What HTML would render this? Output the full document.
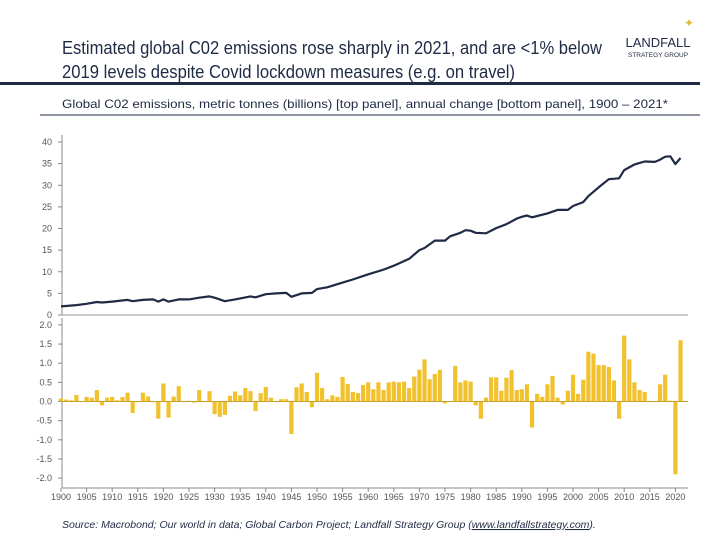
<!DOCTYPE html>
<html><head><meta charset="utf-8"><style>
body{margin:0;background:#fff;width:720px;height:540px;overflow:hidden;font-family:"Liberation Sans",sans-serif}
svg{display:block}
</style></head><body>
<svg id="c" width="720" height="540">
<text x="62" y="54" font-size="18" fill="#1f2a44" textLength="540" lengthAdjust="spacingAndGlyphs">Estimated global C02 emissions rose sharply in 2021, and are &lt;1% below</text>
<text x="62" y="78" font-size="18" fill="#1f2a44" textLength="453" lengthAdjust="spacingAndGlyphs">2019 levels despite Covid lockdown measures (e.g. on travel)</text>
<text x="658" y="47" font-size="13" fill="#1f2a44" text-anchor="middle">LANDFALL</text>
<text x="658" y="57" font-size="6.5" fill="#1f2a44" text-anchor="middle">STRATEGY GROUP</text>
<text x="689" y="27" font-size="12" fill="#e6b830" text-anchor="middle">✦</text>
<rect x="0" y="82" width="700" height="3" fill="#1f2a44"/>
<text x="62" y="108" font-size="12" fill="#1f2a44" textLength="606" lengthAdjust="spacingAndGlyphs">Global C02 emissions, metric tonnes (billions) [top panel], annual change [bottom panel], 1900 – 2021*</text>
<line x1="40" y1="115" x2="700" y2="115" stroke="#1f2a44" stroke-width="1"/>
<g id="topPanel"></g>
<g id="botPanel"></g>
<text x="62" y="528" font-size="10.5" font-style="italic" fill="#1f2a44">Source: Macrobond; Our world in data; Global Carbon Project; Landfall Strategy Group (<tspan text-decoration="underline">www.landfallstrategy.com</tspan>).</text>
</svg>
<script>
const lineYears=[1900,1903,1905,1907,1908,1910,1913,1914,1916,1918,1919,1920,1921,1923,1925,1927,1929,1930,1932,1934,1937,1938,1940,1942,1944,1945,1947,1949,1950,1952,1955,1957,1960,1963,1965,1968,1970,1971,1973,1975,1976,1978,1979,1980,1981,1983,1985,1987,1989,1990,1991,1992,1993,1995,1997,1999,2000,2002,2003,2005,2007,2009,2010,2012,2014,2016,2017,2018,2019,2020,2021];
const emissions=[2.0,2.3,2.6,3.0,2.9,3.1,3.5,3.2,3.5,3.6,3.1,3.6,3.1,3.6,3.6,4.0,4.3,4.0,3.2,3.6,4.3,4.1,4.8,5.0,5.1,4.2,5.0,5.1,6.0,6.4,7.5,8.2,9.4,10.5,11.4,13.0,15.0,15.5,17.2,17.2,18.2,19.0,19.6,19.5,19.0,18.9,20.1,21.0,22.3,22.7,23.0,22.6,22.9,23.5,24.3,24.3,25.2,26.1,27.5,29.5,31.4,31.6,33.5,34.8,35.5,35.4,35.9,36.6,36.7,34.9,36.3];
const barYears=[];for(let y=1900;y<=2021;y++)barYears.push(y);
const changes=[0.08,0.05,0.03,0.17,0.0,0.12,0.1,0.3,-0.1,0.1,0.12,0.03,0.12,0.23,-0.3,0.0,0.23,0.13,-0.02,-0.45,0.47,-0.42,0.13,0.4,0.0,0.02,-0.03,0.3,0.0,0.27,-0.33,-0.4,-0.35,0.15,0.26,0.16,0.35,0.27,-0.25,0.22,0.38,0.1,0.0,0.06,0.06,-0.85,0.37,0.47,0.25,-0.15,0.75,0.35,0.06,0.16,0.12,0.64,0.46,0.25,0.22,0.43,0.5,0.32,
0.5,0.3,0.5,0.52,0.5,0.52,0.35,0.65,0.83,1.1,0.58,0.72,0.83,-0.05,0.0,0.93,0.5,0.55,0.52,-0.1,-0.45,0.1,0.63,0.63,0.28,0.62,0.82,0.3,0.32,0.45,-0.68,0.2,0.12,0.45,0.67,0.1,-0.08,0.28,0.7,0.2,0.57,1.3,1.25,0.95,0.95,0.9,0.55,-0.45,1.72,1.1,0.5,0.3,0.25,0.0,0.0,0.45,0.7,0.02,-1.9,1.6];
const topTicks=[0,5,10,15,20,25,30,35,40];
const botTicks=[-2.0,-1.5,-1.0,-0.5,0.0,0.5,1.0,1.5,2.0];
const xTicks=[1900,1905,1910,1915,1920,1925,1930,1935,1940,1945,1950,1955,1960,1965,1970,1975,1980,1985,1990,1995,2000,2005,2010,2015,2020];
const NS='http://www.w3.org/2000/svg';
const sx=v=>61+(v-1900)*5.12;
const yT=v=>315-v*4.325;
const yB=v=>401.5-v*38.3;
function mk(p,t,a){const e=document.createElementNS(NS,t);for(const k in a)e.setAttribute(k,a[k]);p.appendChild(e);return e;}
const gTop=document.getElementById('topPanel'),gBot=document.getElementById('botPanel');
let ax=mk(gTop,'line',{x1:62,y1:135,x2:62,y2:315,stroke:'#888'});


ax=mk(gTop,'line',{x1:62,y1:315,x2:688,y2:315,stroke:'#999'});


topTicks.forEach(t=>{
 const l=mk(gTop,'text',{x:52,y:yT(t)+3,'font-size':9,fill:'#555','text-anchor':'end'});l.textContent=t;
 
 
 mk(gTop,'line',{x1:58,y1:yT(t),x2:62,y2:yT(t),stroke:'#888'});
});
const pts=lineYears.map((yr,i)=>sx(yr).toFixed(1)+','+yT(emissions[i]).toFixed(1)).join(' ');
const pl=mk(gTop,'polyline',{points:pts,fill:'none',stroke:'#1f2a44','stroke-width':2.2,'stroke-linejoin':'round'});


ax=mk(gBot,'line',{x1:62,y1:318,x2:62,y2:488,stroke:'#888'});


ax=mk(gBot,'line',{x1:62,y1:488,x2:688,y2:488,stroke:'#888'});


botTicks.forEach(t=>{
 const l=mk(gBot,'text',{x:52,y:yB(t)+3,'font-size':9,fill:'#555','text-anchor':'end'});l.textContent=t.toFixed(1);
 
 
 mk(gBot,'line',{x1:58,y1:yB(t),x2:62,y2:yB(t),stroke:'#888'});
});
changes.forEach((v,i)=>{
 const y0=yB(0),y1=yB(v);
 const r=mk(gBot,'rect',{x:sx(barYears[i])-2.1,y:Math.min(y0,y1),width:4.2,height:Math.max(0.6,Math.abs(y1-y0)),fill:'#f2c12e'});
 
 
});
mk(gBot,'line',{x1:62,y1:yB(0),x2:688,y2:yB(0),stroke:'#c9a02a','stroke-width':1});
xTicks.forEach(t=>{
 mk(gBot,'line',{x1:sx(t),y1:488,x2:sx(t),y2:492,stroke:'#888'});
 const l=mk(gBot,'text',{x:sx(t),y:500,'font-size':9,fill:'#555','text-anchor':'middle'});l.textContent=t;
 
 
});
</script>
</body></html>
